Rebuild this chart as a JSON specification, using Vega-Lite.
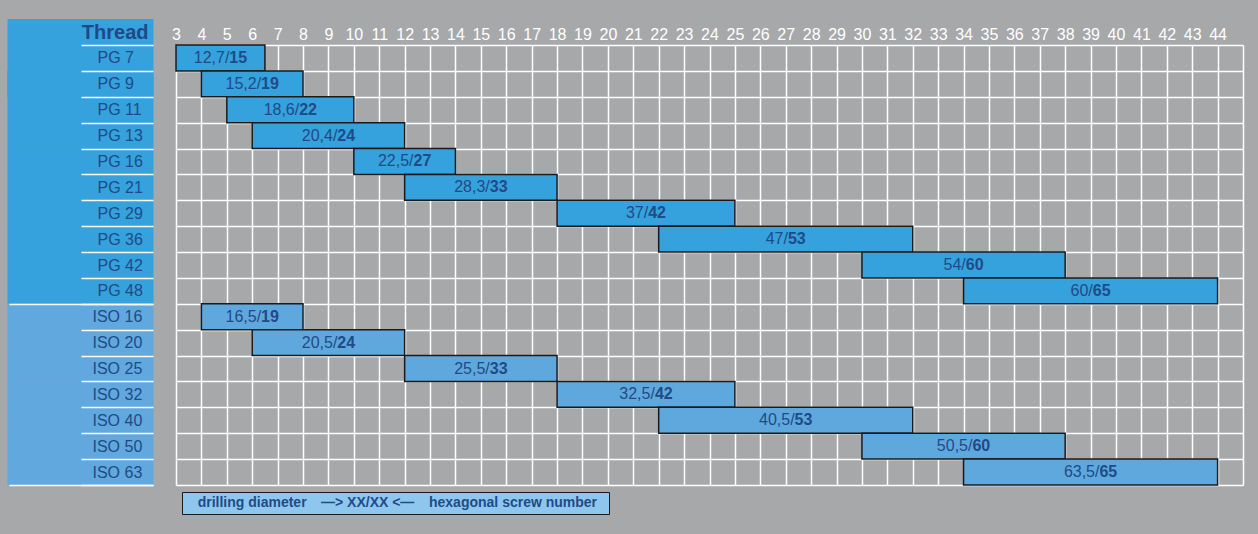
{
  "$schema": "https://vega.github.io/schema/vega-lite/v6.json",
  "autosize": "none",
  "width": 1067,
  "height": 440,
  "padding": {"left": 176, "top": 45, "right": 15, "bottom": 49},
  "background": "#a7a8aa",
  "config": {"view": {"stroke": null}, "font": "Liberation Sans", "axisX": {"labelOverlap": false, "labelFlush": false}, "axis": {"labelOverlap": false}},
  "data": {
    "values": [
      {"thread": "PG 7", "system": "PG", "from": 3, "to": 6.5, "lhs": "12,7/", "rhs": "15"},
      {"thread": "PG 9", "system": "PG", "from": 4, "to": 8, "lhs": "15,2/", "rhs": "19"},
      {"thread": "PG 11", "system": "PG", "from": 5, "to": 10, "lhs": "18,6/", "rhs": "22"},
      {"thread": "PG 13", "system": "PG", "from": 6, "to": 12, "lhs": "20,4/", "rhs": "24"},
      {"thread": "PG 16", "system": "PG", "from": 10, "to": 14, "lhs": "22,5/", "rhs": "27"},
      {"thread": "PG 21", "system": "PG", "from": 12, "to": 18, "lhs": "28,3/", "rhs": "33"},
      {"thread": "PG 29", "system": "PG", "from": 18, "to": 25, "lhs": "37/", "rhs": "42"},
      {"thread": "PG 36", "system": "PG", "from": 22, "to": 32, "lhs": "47/", "rhs": "53"},
      {"thread": "PG 42", "system": "PG", "from": 30, "to": 38, "lhs": "54/", "rhs": "60"},
      {"thread": "PG 48", "system": "PG", "from": 34, "to": 44, "lhs": "60/", "rhs": "65"},
      {"thread": "ISO 16", "system": "ISO", "from": 4, "to": 8, "lhs": "16,5/", "rhs": "19"},
      {"thread": "ISO 20", "system": "ISO", "from": 6, "to": 12, "lhs": "20,5/", "rhs": "24"},
      {"thread": "ISO 25", "system": "ISO", "from": 12, "to": 18, "lhs": "25,5/", "rhs": "33"},
      {"thread": "ISO 32", "system": "ISO", "from": 18, "to": 25, "lhs": "32,5/", "rhs": "42"},
      {"thread": "ISO 40", "system": "ISO", "from": 22, "to": 32, "lhs": "40,5/", "rhs": "53"},
      {"thread": "ISO 50", "system": "ISO", "from": 30, "to": 38, "lhs": "50,5/", "rhs": "60"},
      {"thread": "ISO 63", "system": "ISO", "from": 34, "to": 44, "lhs": "63,5/", "rhs": "65"}
    ]
  },
  "resolve": {"axis": {"y": "independent"}},
  "layer": [
    {
      "mark": {"type": "bar", "stroke": "#1a1a1a", "strokeWidth": 1.5},
      "encoding": {
        "x": {
          "field": "from", "type": "quantitative",
          "scale": {"domain": [3, 45], "nice": false, "zero": false},
          "axis": {
            "orient": "top",
            "values": [3,4,5,6,7,8,9,10,11,12,13,14,15,16,17,18,19,20,21,22,23,24,25,26,27,28,29,30,31,32,33,34,35,36,37,38,39,40,41,42,43,44,45],
            "tickCount": 60, "format": "d",
            "labelExpr": "datum.value == 45 ? '' : datum.label",
            "domain": false, "ticks": false, "tickSize": 0,
            "labelPadding": 3, "labelColor": "#ffffff", "labelFont": "Liberation Sans", "labelFontSize": 16,
            "labelFlush": false, "labelOverlap": false, "labelBound": false,
            "grid": true, "gridColor": "#ffffff", "gridWidth": 1.5, "gridOpacity": 1,
            "title": null
          }
        },
        "x2": {"field": "to"},
        "y": {
          "field": "thread", "type": "nominal",
          "scale": {"domain": ["PG 7","PG 9","PG 11","PG 13","PG 16","PG 21","PG 29","PG 36","PG 42","PG 48","ISO 16","ISO 20","ISO 25","ISO 32","ISO 40","ISO 50","ISO 63"], "paddingInner": 0, "paddingOuter": 0},
          "axis": {
            "orient": "left", "offset": 23, "domain": false, "labels": false, "grid": false,
            "ticks": true, "tickBand": "center", "tickSize": 146, "tickCap": "butt", "tickRound": false,
            "tickColor": {"condition": {"test": "indexof('' + datum.value, 'ISO') >= 0", "value": "#60a8dd"}, "value": "#35a1dd"},
            "tickWidth": {"condition": {"test": "datum.value === 'PG 7'", "value": 78}, "value": 26.5},
            "title": null
          }
        },
        "color": {
          "field": "system", "type": "nominal",
          "scale": {"domain": ["PG", "ISO"], "range": ["#35a1dd", "#5fa8de"]},
          "legend": null
        },
        "strokeDash": {
          "datum": "—> XX/XX <—", "type": "nominal",
          "scale": {"domain": ["—> XX/XX <—", "hexagonal screw number\u00a0\u00a0\u200b"], "range": [[1, 0], [1, 0]]},
          "legend": {
            "orient": "none", "legendX": 6, "legendY": 447, "direction": "horizontal",
            "title": "\u200b\u00a0\u00a0\u00a0drilling diameter", "titleOrient": "left",
            "titleFont": "Liberation Sans", "titleFontSize": 14, "titleFontWeight": "bold", "titleColor": "#1f4b86",
            "titlePadding": 0, "titleBaseline": "middle",
            "fillColor": "#8fc6ee", "strokeColor": "#1a1a1a", "padding": 4, "cornerRadius": 0,
            "symbolSize": 0, "symbolOpacity": 0, "symbolStrokeWidth": 0, "labelOffset": 0,
            "columnPadding": 0,
            "labelFont": "Liberation Sans", "labelFontSize": 14, "labelFontWeight": "bold", "labelColor": "#1f4b86", "labelLimit": 400
          }
        }
      }
    },
    {
      "transform": [{"filter": "indexof(datum.lhs, ',') >= 0"}, {"fold": ["from", "to"], "as": ["end", "pos"]}],
      "mark": {"type": "text", "align": "right", "baseline": "middle", "dx": 8.9, "font": "Liberation Sans", "fontSize": 16, "color": "#1f4b86"},
      "encoding": {
        "x": {"aggregate": "mean", "field": "pos", "type": "quantitative", "scale": {"domain": [3, 45], "nice": false, "zero": false}, "axis": {"labelOverlap": false, "labelFlush": false, "tickCount": 60, "format": "d", "title": null}},
        "y": {
          "field": "thread", "type": "nominal",
          "scale": {"domain": ["PG 7","PG 9","PG 11","PG 13","PG 16","PG 21","PG 29","PG 36","PG 42","PG 48","ISO 16","ISO 20","ISO 25","ISO 32","ISO 40","ISO 50","ISO 63"], "paddingInner": 0, "paddingOuter": 0},
          "axis": {
            "orient": "left", "offset": 23, "domain": false,
            "tickBand": "extent", "ticks": true, "tickColor": "#ffffff", "tickWidth": 1.5, "tickSize": 72,
            "grid": true, "gridColor": "#ffffff", "gridWidth": 1.5,
            "labels": true, "labelAlign": "left", "labelBaseline": "middle", "labelPadding": -16,
            "labelFont": "Liberation Sans", "labelFontSize": 16, "labelOverlap": false,
            "labelColor": {"condition": {"test": "indexof('' + datum.value, 'ISO') >= 0", "value": "transparent"}, "value": "#1f4b86"},
            "title": "Thread", "titleAngle": 0, "titleX": -5, "titleY": -13, "titleAlign": "right", "titleBaseline": "middle",
            "titleFont": "Liberation Sans", "titleFontSize": 20, "titleFontWeight": "bold", "titleColor": "#1e4a88"
          }
        },
        "text": {"field": "lhs"}
      }
    },
    {
      "transform": [{"filter": "indexof(datum.lhs, ',') >= 0"}, {"fold": ["from", "to"], "as": ["end", "pos"]}],
      "mark": {"type": "text", "align": "left", "baseline": "middle", "dx": 8.9, "font": "Liberation Sans", "fontSize": 16, "fontWeight": "bold", "color": "#1f4b86"},
      "encoding": {
        "x": {"aggregate": "mean", "field": "pos", "type": "quantitative", "scale": {"domain": [3, 45], "nice": false, "zero": false}, "axis": {"labelOverlap": false, "labelFlush": false, "tickCount": 60, "format": "d", "title": null}},
        "y": {"field": "thread", "type": "nominal",
          "scale": {"domain": ["PG 7","PG 9","PG 11","PG 13","PG 16","PG 21","PG 29","PG 36","PG 42","PG 48","ISO 16","ISO 20","ISO 25","ISO 32","ISO 40","ISO 50","ISO 63"], "paddingInner": 0, "paddingOuter": 0},
          "axis": {
            "orient": "left", "offset": 23, "domain": false, "grid": false,
            "tickBand": "extent", "ticks": true, "tickWidth": 1.5, "tickSize": 144,
            "tickColor": {"condition": {"test": "datum.value === 'PG 48' || datum.value === 'ISO 63'", "value": "#ffffff"}, "value": "transparent"},
            "labels": true, "labelAlign": "left", "labelBaseline": "middle", "labelPadding": -83,
            "labelFont": "Liberation Sans", "labelFontSize": 16, "labelOverlap": false,
            "labelColor": {"condition": {"test": "indexof('' + datum.value, 'ISO') >= 0", "value": "#1f4b86"}, "value": "transparent"},
            "title": null
          }
        },
        "text": {"field": "rhs"}
      }
    },
    {
      "transform": [{"filter": "indexof(datum.lhs, ',') < 0"}, {"fold": ["from", "to"], "as": ["end", "pos"]}],
      "mark": {"type": "text", "align": "right", "baseline": "middle", "dx": 2.2, "font": "Liberation Sans", "fontSize": 16, "color": "#1f4b86"},
      "encoding": {
        "x": {"aggregate": "mean", "field": "pos", "type": "quantitative", "scale": {"domain": [3, 45], "nice": false, "zero": false}, "axis": {"labelOverlap": false, "labelFlush": false, "tickCount": 60, "format": "d", "title": null}},
        "y": {"field": "thread", "type": "nominal", "axis": null,
          "scale": {"domain": ["PG 7","PG 9","PG 11","PG 13","PG 16","PG 21","PG 29","PG 36","PG 42","PG 48","ISO 16","ISO 20","ISO 25","ISO 32","ISO 40","ISO 50","ISO 63"], "paddingInner": 0, "paddingOuter": 0}},
        "text": {"field": "lhs"}
      }
    },
    {
      "transform": [{"filter": "indexof(datum.lhs, ',') < 0"}, {"fold": ["from", "to"], "as": ["end", "pos"]}],
      "mark": {"type": "text", "align": "left", "baseline": "middle", "dx": 2.2, "font": "Liberation Sans", "fontSize": 16, "fontWeight": "bold", "color": "#1f4b86"},
      "encoding": {
        "x": {"aggregate": "mean", "field": "pos", "type": "quantitative", "scale": {"domain": [3, 45], "nice": false, "zero": false}, "axis": {"labelOverlap": false, "labelFlush": false, "tickCount": 60, "format": "d", "title": null}},
        "y": {"field": "thread", "type": "nominal", "axis": null,
          "scale": {"domain": ["PG 7","PG 9","PG 11","PG 13","PG 16","PG 21","PG 29","PG 36","PG 42","PG 48","ISO 16","ISO 20","ISO 25","ISO 32","ISO 40","ISO 50","ISO 63"], "paddingInner": 0, "paddingOuter": 0}},
        "text": {"field": "rhs"}
      }
    }
  ]
}
